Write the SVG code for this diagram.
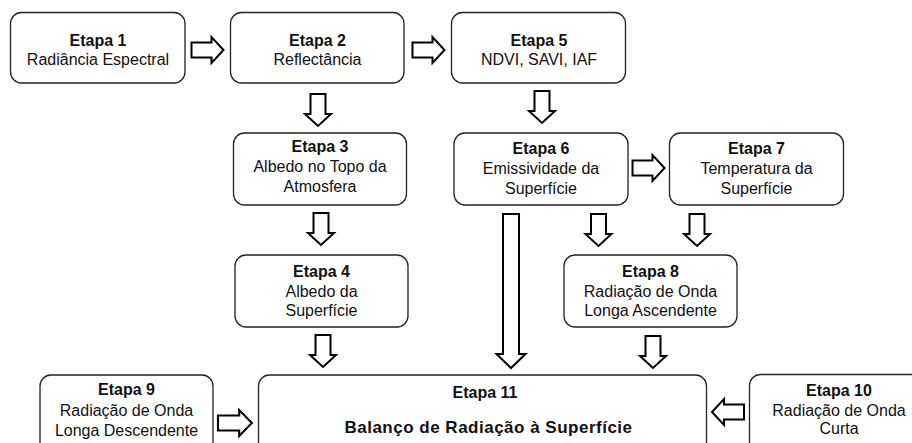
<svg xmlns="http://www.w3.org/2000/svg" xmlns:xlink="http://www.w3.org/1999/xlink" width="912" height="443" viewBox="0 0 912 443">
<style>
.box{fill:#fff;stroke:#222;stroke-width:1.3}
.arr{fill:#fff;stroke:#000;stroke-width:2;stroke-linejoin:miter}
text{font-family:"Liberation Sans",Arial,sans-serif;font-size:16px;fill:#111;text-anchor:middle}
.b{font-weight:bold}
.big{font-weight:bold;font-size:17px;letter-spacing:0.5px}
</style>
<defs>
<path id="ar" d="M0,-7.5 H20 V-13 L32,0 L20,13 V7.5 H0 Z"/>
</defs>
<rect width="912" height="443" fill="#fff"/>
<g id="connectors">
<use xlink:href="#ar" class="arr" transform="translate(191.5,50)"/>
<use xlink:href="#ar" class="arr" transform="translate(412.5,50)"/>
<use xlink:href="#ar" class="arr" transform="translate(632.5,168)"/>
<use xlink:href="#ar" class="arr" transform="translate(218,423) scale(1.06,1)"/>
<use xlink:href="#ar" class="arr" transform="translate(744,412) scale(-1,1)"/>
<use xlink:href="#ar" class="arr" transform="translate(318,94) rotate(90)"/>
<use xlink:href="#ar" class="arr" transform="translate(542,91) rotate(90)"/>
<use xlink:href="#ar" class="arr" transform="translate(321,213) rotate(90)"/>
<use xlink:href="#ar" class="arr" transform="translate(598.5,214) rotate(90)"/>
<use xlink:href="#ar" class="arr" transform="translate(697,214) rotate(90)"/>
<use xlink:href="#ar" class="arr" transform="translate(323,335) rotate(90)"/>
<use xlink:href="#ar" class="arr" transform="translate(653,336) rotate(90)"/>
<path class="arr" d="M503,214 H519 V354 H525.5 L511,368 L496.5,354 H503 Z"/>
</g>
<g id="etapa1">
<rect class="box" x="10.5" y="12.5" width="174.5" height="70.5" rx="11"/>
<text class="b" x="98" y="46">Etapa 1</text>
<text x="98" y="65">Radiância Espectral</text>
</g>
<g id="etapa2">
<rect class="box" x="230.5" y="12.5" width="173.5" height="70.5" rx="11"/>
<text class="b" x="317.5" y="46">Etapa 2</text>
<text x="317.5" y="65">Reflectância</text>
</g>
<g id="etapa5">
<rect class="box" x="451.5" y="12.5" width="174" height="70.5" rx="11"/>
<text class="b" x="539" y="46">Etapa 5</text>
<text x="539" y="65">NDVI, SAVI, IAF</text>
</g>
<g id="etapa3">
<rect class="box" x="233.5" y="133" width="173" height="72" rx="11"/>
<text class="b" x="320" y="152">Etapa 3</text>
<text x="320" y="172">Albedo no Topo da</text>
<text x="320" y="192">Atmosfera</text>
</g>
<g id="etapa6">
<rect class="box" x="454" y="133" width="174" height="72" rx="11"/>
<text class="b" x="541" y="154">Etapa 6</text>
<text x="541" y="174">Emissividade da</text>
<text x="541" y="194">Superfície</text>
</g>
<g id="etapa7">
<rect class="box" x="669.5" y="133" width="174" height="72" rx="11"/>
<text class="b" x="756.5" y="154">Etapa 7</text>
<text x="756.5" y="174">Temperatura da</text>
<text x="756.5" y="194">Superfície</text>
</g>
<g id="etapa4">
<rect class="box" x="235" y="255" width="173" height="72" rx="11"/>
<text class="b" x="321.5" y="277">Etapa 4</text>
<text x="321.5" y="296.5">Albedo da</text>
<text x="321.5" y="316">Superfície</text>
</g>
<g id="etapa8">
<rect class="box" x="564" y="255" width="173" height="72" rx="11"/>
<text class="b" x="650.5" y="277">Etapa 8</text>
<text x="650.5" y="296.5">Radiação de Onda</text>
<text x="650.5" y="316">Longa Ascendente</text>
</g>
<g id="etapa9">
<rect class="box" x="40" y="375" width="173" height="80" rx="11"/>
<text class="b" x="126.5" y="395">Etapa 9</text>
<text x="126.5" y="415.5">Radiação de Onda</text>
<text x="126.5" y="435.5">Longa Descendente</text>
</g>
<g id="etapa11">
<rect class="box" x="258.5" y="375" width="448" height="80" rx="11"/>
<text class="b" x="485" y="398">Etapa 11</text>
<text class="big" x="488.5" y="433">Balanço de Radiação à Superfície</text>
</g>
<g id="etapa10">
<rect class="box" x="749.5" y="374.5" width="180" height="80" rx="11"/>
<text class="b" x="839" y="395.5">Etapa 10</text>
<text x="839" y="415.5">Radiação de Onda</text>
<text x="839" y="434">Curta</text>
</g>
</svg>
